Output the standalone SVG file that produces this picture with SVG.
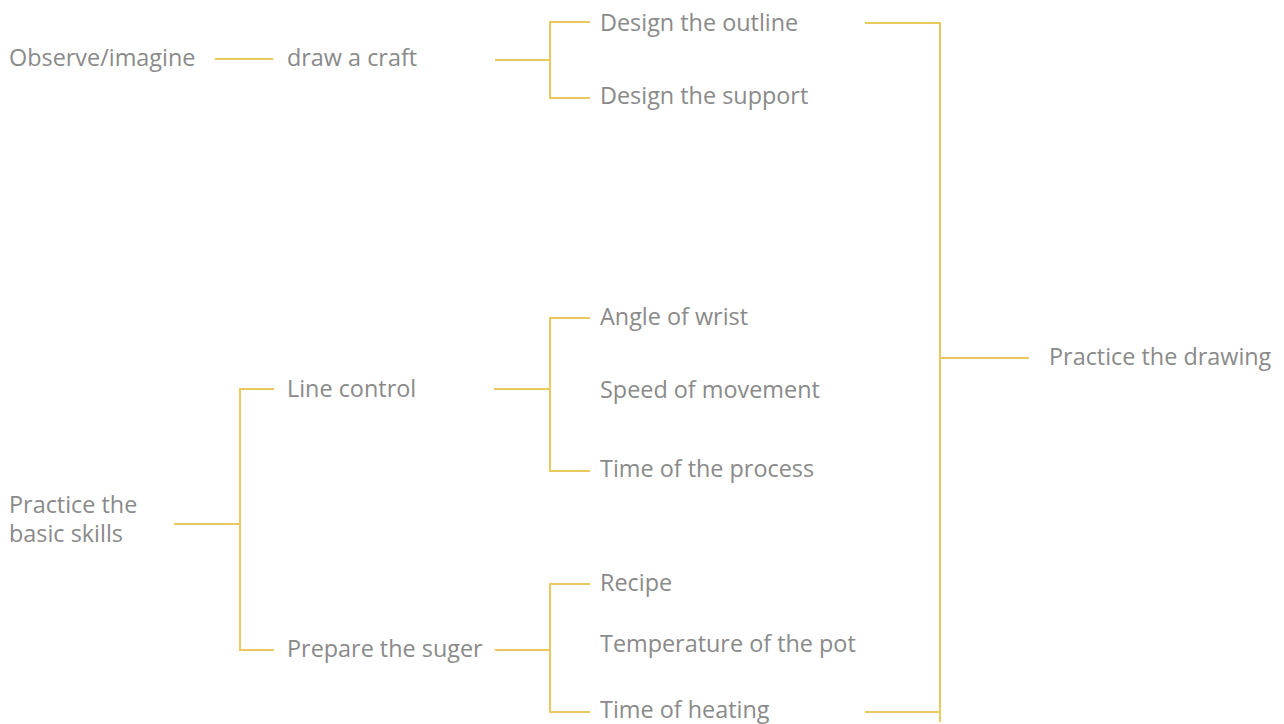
<svg xmlns="http://www.w3.org/2000/svg" width="1284" height="724" viewBox="0 0 1284 724">
<style>
text{font-family:"Open Sans","Noto Sans",sans-serif;font-size:23.4px;fill:#8a8a8a;dominant-baseline:central}
.c{stroke:#e9c85e;stroke-width:2;fill:none}
</style>
<rect width="1284" height="724" fill="#fff"/>
<g id="connectors">
<path class="c" d="M215 59H273"/>
<path class="c" d="M495 60H550M590 22H550V98H590"/>
<path class="c" d="M865 23H940V722M940 358H1029M865 712H940"/>
<path class="c" d="M494 389H550M590 318H550V471H590"/>
<path class="c" d="M174 524H240M274 389H240V650H274"/>
<path class="c" d="M495 650H550M590 584H550V712H590"/>
</g>
<g id="n1"><text x="9" y="57">Observe/imagine</text></g>
<g id="n2"><text x="287" y="57">draw a craft</text></g>
<g id="n3"><text x="600" y="22">Design the outline</text></g>
<g id="n4"><text x="600" y="95">Design the support</text></g>
<g id="n5"><text x="1049" y="356">Practice the drawing</text></g>
<g id="n6"><text x="287" y="388">Line control</text></g>
<g id="n7"><text x="600" y="316">Angle of wrist</text></g>
<g id="n8"><text x="600" y="389">Speed of movement</text></g>
<g id="n9"><text x="600" y="468">Time of the process</text></g>
<g id="n10"><text x="9" y="504">Practice the</text><text x="9" y="533">basic skills</text></g>
<g id="n11"><text x="287" y="648">Prepare the suger</text></g>
<g id="n12"><text x="600" y="582">Recipe</text></g>
<g id="n13"><text x="600" y="643">Temperature of the pot</text></g>
<g id="n14"><text x="600" y="709">Time of heating</text></g>
</svg>
